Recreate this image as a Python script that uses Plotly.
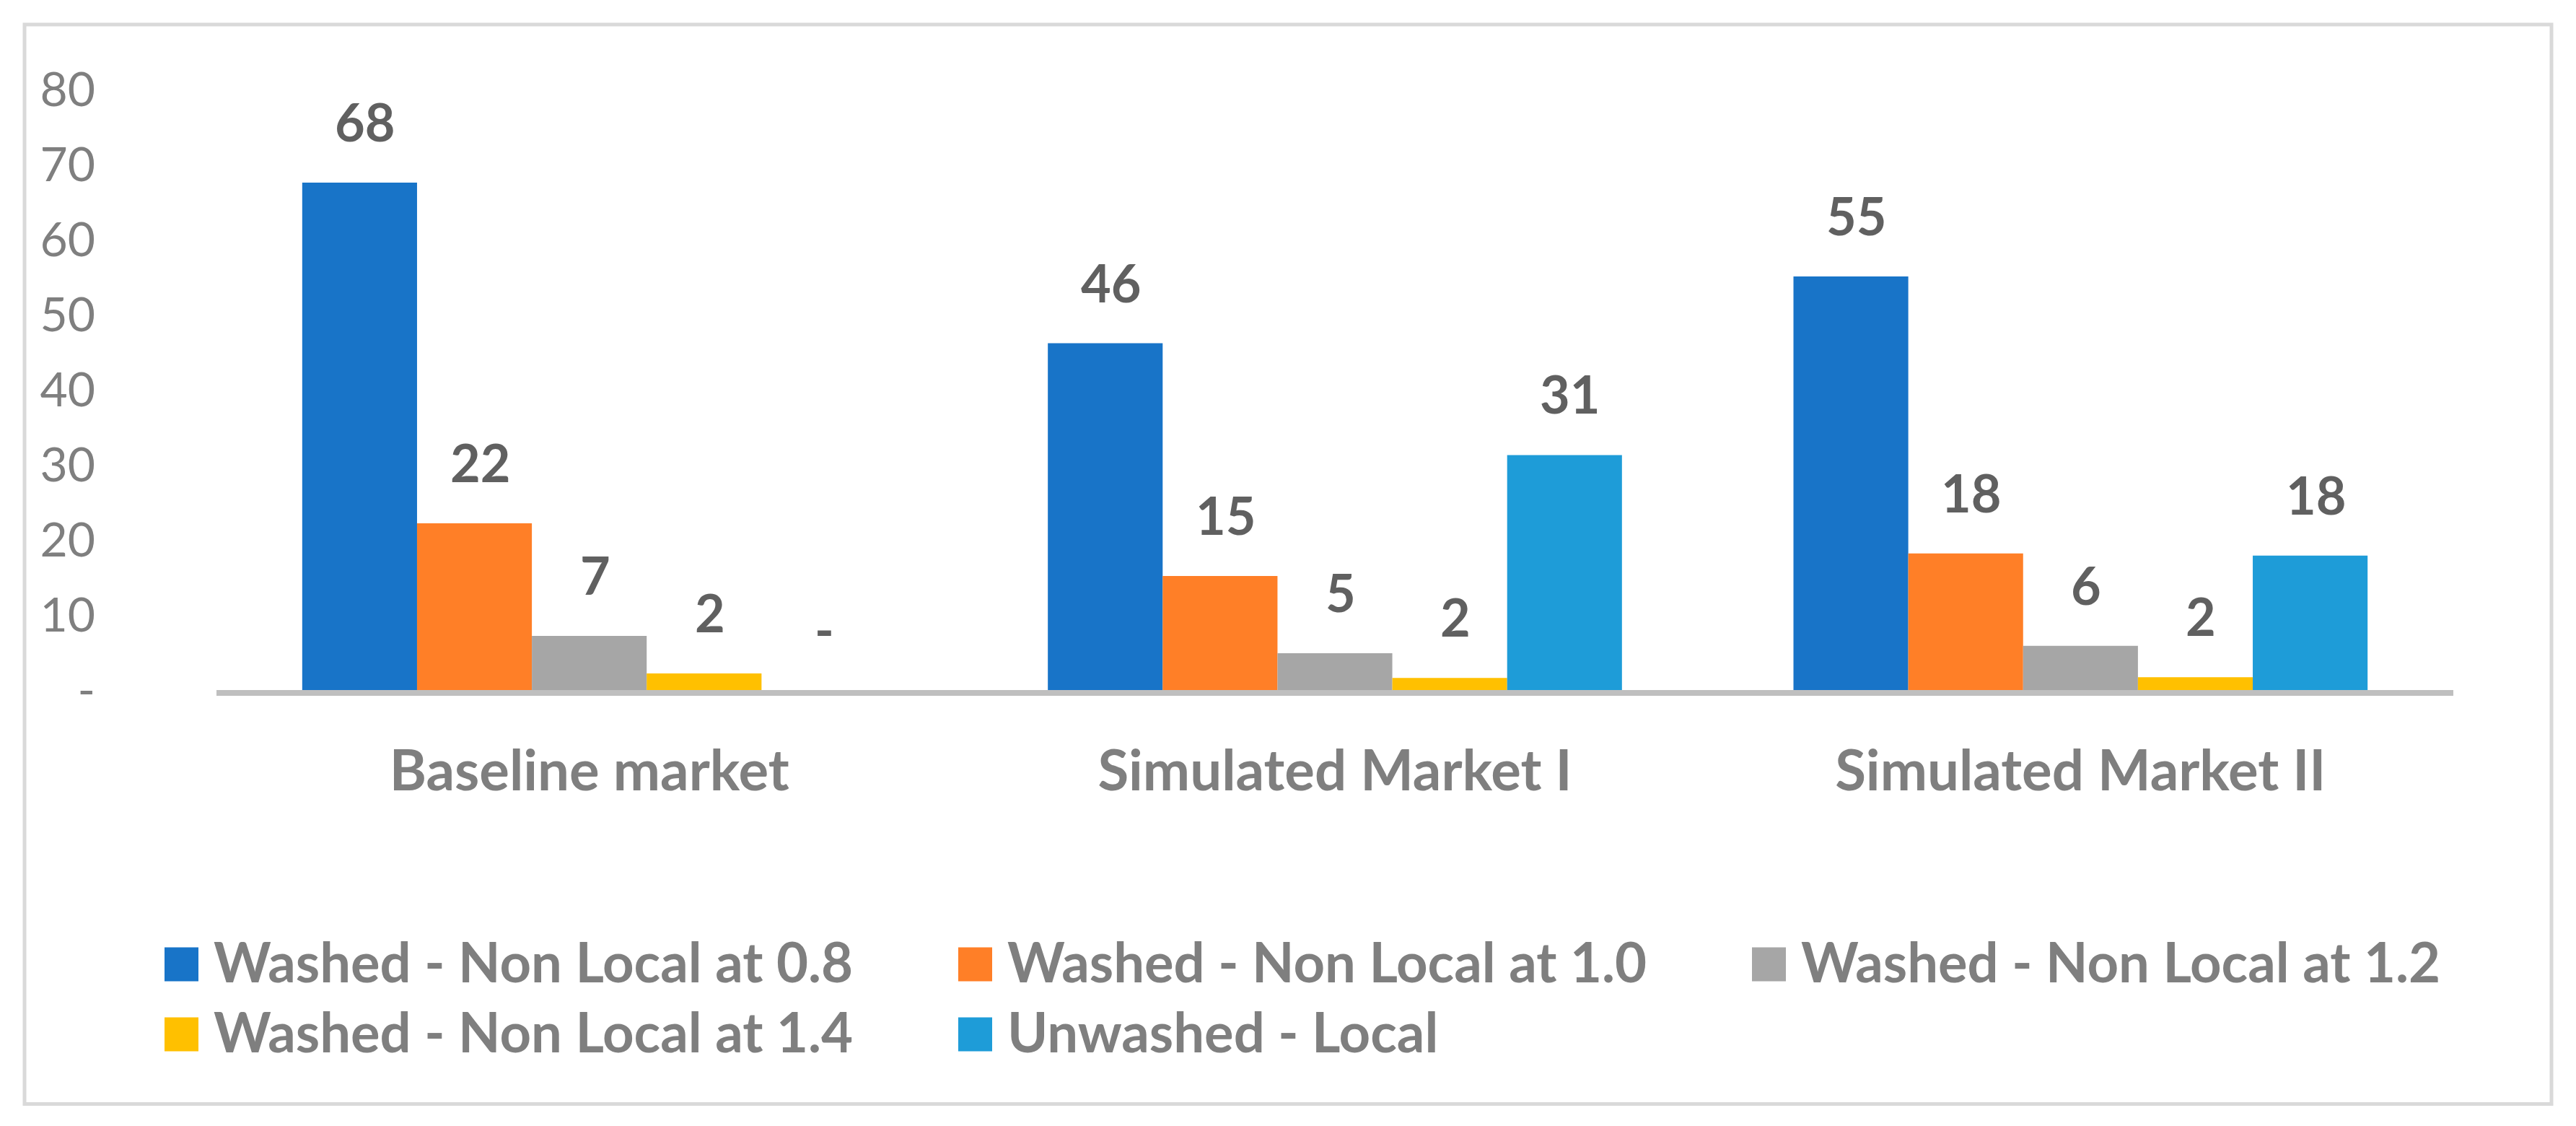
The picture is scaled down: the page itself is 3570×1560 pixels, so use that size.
import plotly.graph_objects as go

# ---------------- data ----------------
categories = ["Baseline market", "Simulated Market I", "Simulated Market II"]
series_names = [
    "Washed - Non Local at 0.8",
    "Washed - Non Local at 1.0",
    "Washed - Non Local at 1.2",
    "Washed - Non Local at 1.4",
    "Unwashed - Local",
]
washed_08 = [67.6, 46.2, 55.1]
washed_10 = [22.2, 15.2, 18.2]
washed_12 = [7.2, 4.9, 5.9]
washed_14 = [2.2, 1.6, 1.7]
unwashed_local = [0, 31.3, 17.9]
series_values = [washed_08, washed_10, washed_12, washed_14, unwashed_local]
colors = ["#1874C8", "#FF7F27", "#A6A6A6", "#FFC000", "#1E9CD8"]

y_tick_values = [0, 10, 20, 30, 40, 50, 60, 70, 80]
y_tick_labels = ["-", "10", "20", "30", "40", "50", "60", "70", "80"]

# ---------------- layout constants ----------------
# page body has an 8px default margin; figure is sized to fit the window
OFF = 8
W, H = 3570 - OFF, 1560 - OFF
L, R, T, B = 300 - OFF, 170, 124 - OFF, 604
PW, PH = W - L - R, H - T - B
BARGAP = 0.23
FONT = "Lato, 'Open Sans', sans-serif"
GREY_TXT = "#7F7F7F"
LABEL_TXT = "#606060"


def px_x(x):
    """screen pixel -> paper fraction"""
    return (x - OFF - L) / PW


def px_y(y):
    return (H - B - (y - OFF)) / PH


fig = go.Figure()
for name, vals, col in zip(series_names, series_values, colors):
    fig.add_trace(go.Bar(x=categories, y=vals, name=name, marker_color=col,
                         marker_line_width=0, showlegend=False))

annotations = []
bar_w = PW / len(categories) * (1 - BARGAP) / len(series_names)
n = len(series_names)
for i, vals in enumerate(series_values):
    for cat, v in zip(categories, vals):
        annotations.append(dict(
            x=cat, y=v, xref="x", yref="y",
            text=(f"{v:.0f}" if v else "-"),
            showarrow=False, xanchor="center", yanchor="middle",
            xshift=(i - (n - 1) / 2) * bar_w + 8, yshift=85,
            font=dict(family=FONT, size=72, color=LABEL_TXT, weight="bold"),
        ))

# custom legend (large square keys)
shapes = []
for i, (name, col) in enumerate(zip(series_names, colors)):
    row, c = divmod(i, 3)
    x0 = 228 + c * 1100
    yc = 1336 + row * 97
    shapes.append(dict(type="rect", xref="paper", yref="paper",
                       x0=px_x(x0), x1=px_x(x0 + 47),
                       y0=px_y(yc - 23.5), y1=px_y(yc + 23.5),
                       fillcolor=col, line_width=0))
    annotations.append(dict(
        x=px_x(294 + c * 1100), y=px_y(yc - 5), xref="paper", yref="paper",
        text=name, showarrow=False, xanchor="left", yanchor="middle",
        font=dict(family=FONT, size=76, color=GREY_TXT, weight="bold"),
    ))

# outer chart border
shapes.append(dict(type="rect", xref="paper", yref="paper",
                   x0=px_x(34), x1=px_x(3536), y0=px_y(1529.5), y1=px_y(34),
                   line=dict(color="#D9D9D9", width=5), fillcolor="rgba(0,0,0,0)"))

fig.update_layout(
    width=W, height=H,
    margin=dict(l=L, r=R, t=T, b=B, autoexpand=False),
    paper_bgcolor="white", plot_bgcolor="white",
    barmode="group", bargap=BARGAP, bargroupgap=0,
    font=dict(family=FONT, color=GREY_TXT),
    showlegend=False,
    annotations=annotations,
    shapes=shapes,
    xaxis=dict(
        type="category", showline=True, linecolor="#BFBFBF", linewidth=8,
        showgrid=False, zeroline=False, ticks="",
        tickfont=dict(family=FONT, size=78, color=GREY_TXT, weight="bold"),
        ticklabelstandoff=37,
    ),
    yaxis=dict(
        range=[0, 80], showline=False, showgrid=False, zeroline=False,
        tickmode="array", tickvals=y_tick_values, ticktext=y_tick_labels,
        ticks="", tickfont=dict(family=FONT, size=66, color=GREY_TXT),
        ticklabelstandoff=167,
    ),
)

fig.write_html("out.html")
